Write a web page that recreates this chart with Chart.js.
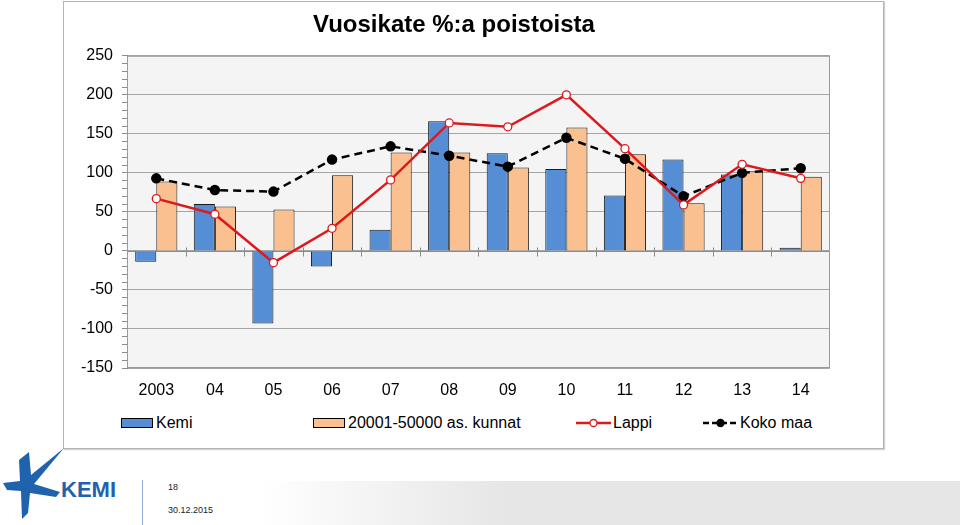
<!DOCTYPE html>
<html>
<head>
<meta charset="utf-8">
<title>Vuosikate %:a poistoista</title>
<script src="https://cdn.jsdelivr.net/npm/chart.js@4.4.1/dist/chart.umd.min.js"></script>
<style>
body { margin: 0; width: 960px; height: 525px; background: #fff; position: relative; overflow: hidden; font-family: "Liberation Sans", Arial, sans-serif; }
#box { position: absolute; left: 63px; top: 1px; width: 819px; height: 446px; border: 1px solid #b4b4b4; box-shadow: 1px 1px 1px #d0d0d0; }
#wrap { position: absolute; left: 78px; top: 2px; width: 772px; height: 398px; }
#legend { position: absolute; left: 0; top: 412px; width: 960px; height: 22px; font-size: 16px; color: #000; }
.item { position: absolute; top: 0; height: 22px; display: flex; align-items: center; white-space: nowrap; }
.swatch { width: 30px; height: 8px; border: 1px solid #000; margin-right: 3px; }
.item svg { margin-right: 2px; }
#band { position: absolute; left: 260px; top: 481px; width: 700px; height: 44px; background: linear-gradient(90deg, rgba(230,230,230,0) 0%, #e6e6e6 35%, #e6e6e6 100%); }
#logo { position: absolute; left: 0; top: 446px; }
#sep { position: absolute; left: 142px; top: 480px; width: 1px; height: 45px; background: #8fb0d6; }
.foot { position: absolute; left: 168px; font-size: 9px; color: #222; }
</style>
</head>
<body>
<div id="band"></div>
<div id="box"></div>
<div id="wrap"><canvas id="myChart"></canvas></div>
<div id="legend"></div>

<svg id="logo" width="130" height="79" viewBox="0 0 130 79">
  <path d="M64 2 L31 29 L29 6 L19 14 L20 35 L3 37 L7 44 L21 45 L22 73 L28 67 L30 47 L56 51 L60 46 L34 38 Z" fill="#1f62ad"/>
  <text x="61" y="51" font-family="Liberation Sans, Arial, sans-serif" font-weight="bold" font-size="22" fill="#1f62ad">KEMI</text>
</svg>
<div id="sep"></div>
<div class="foot" style="top:482px">18</div>
<div class="foot" style="top:505px">30.12.2015</div>

<script>
var years = ['2003', '04', '05', '06', '07', '08', '09', '10', '11', '12', '13', '14'];
var seriesNames = ['Kemi', '20001-50000 as. kunnat', 'Lappi', 'Koko maa'];
var kemi = [-14, 60, -93, -20, 27, 166, 125, 105, 71, 117, 98, 4];
var kunnat = [89, 57, 53, 97, 126, 126, 107, 158, 124, 61, 102, 95];
var lappi = [67, 47, -15, 29, 91, 164, 159, 200, 131, 59, 111, 93];
var kokoMaa = [93, 78, 76, 117, 134, 122, 108, 145, 118, 70, 100, 106];
var yTicks = [-150, -100, -50, 0, 50, 100, 150, 200, 250];

var font = '"Liberation Sans", Arial, sans-serif';

// grey plot area with a frame, plus the category ticks on the zero line
var plotArea = {
    id: 'plotArea',
    beforeDraw: function (chart) {
        var a = chart.chartArea, c = chart.ctx;
        c.save();
        c.fillStyle = '#f4f4f4';
        c.fillRect(a.left, a.top, a.right - a.left, a.bottom - a.top);
        c.restore();
    },
    beforeDatasetsDraw: function (chart) {
        var a = chart.chartArea, c = chart.ctx;
        var xs = chart.scales.x, y0 = Math.round(chart.scales.y.getPixelForValue(0)) + 0.5;
        var w = (a.right - a.left) / years.length;
        c.save();
        c.strokeStyle = '#8c8c8c';
        c.lineWidth = 1;
        c.beginPath();
        c.moveTo(a.left, y0);
        c.lineTo(a.right, y0);
        for (var i = 1; i < years.length; i++) {
            var x = Math.round(xs.getPixelForValue(i) - w / 2) + 0.5;
            c.moveTo(x, y0 - 4);
            c.lineTo(x, y0 + 5);
        }
        c.stroke();
        c.restore();
    },
    afterDraw: function (chart) {
        var a = chart.chartArea, c = chart.ctx;
        c.save();
        c.strokeStyle = '#9a9a9a';
        c.lineWidth = 1;
        c.strokeRect(a.left + 0.5, a.top + 0.5, a.right - a.left - 1, a.bottom - a.top - 1);
        c.restore();
    }
};

var ctx = document.getElementById('myChart').getContext('2d');
var myChart = new Chart(ctx, {
    type: 'bar',
    data: {
        labels: years,
        datasets: [{
            label: seriesNames[0],
            data: kemi,
            backgroundColor: '#558ed5',
            borderColor: '#1a1a1a',
            borderWidth: 1,
            order: 2
        }, {
            label: seriesNames[1],
            data: kunnat,
            backgroundColor: '#fac090',
            borderColor: '#1a1a1a',
            borderWidth: 1,
            order: 2
        }, {
            type: 'line',
            label: seriesNames[2],
            data: lappi,
            borderColor: '#dc1a1e',
            borderWidth: 2.5,
            pointRadius: 4,
            pointBorderWidth: 1.3,
            pointBackgroundColor: '#ffffff',
            pointBorderColor: '#dc1a1e',
            tension: 0,
            order: 0
        }, {
            type: 'line',
            label: seriesNames[3],
            data: kokoMaa,
            borderColor: '#000000',
            borderWidth: 2.5,
            borderDash: [8, 5],
            pointRadius: 4,
            pointBackgroundColor: '#000000',
            pointBorderColor: '#000000',
            tension: 0,
            order: 1
        }]
    },
    options: {
        responsive: true,
        maintainAspectRatio: false,
        animation: false,
        layout: { padding: { left: 0, right: 20, top: 0, bottom: 0 } },
        datasets: {
            bar: { categoryPercentage: 0.72, barPercentage: 1 }
        },
        plugins: {
            legend: { display: false },
            tooltip: { enabled: false },
            title: {
                display: true,
                text: 'Vuosikate %:a poistoista',
                color: '#000',
                font: { family: font, size: 24, weight: 'bold' },
                padding: { top: 9, bottom: 16 }
            }
        },
        scales: {
            x: {
                offset: true,
                afterFit: function (s) { s.height = 32; },
                grid: { display: false, offset: true },
                border: { display: false },
                ticks: { color: '#000', font: { family: font, size: 16 }, padding: 5 }
            },
            y: {
                min: yTicks[0],
                max: yTicks[yTicks.length - 1],
                afterFit: function (s) { s.width = 49; },
                border: { color: '#8c8c8c' },
                grid: {
                    color: function (c) {
                        return c.tick && yTicks.indexOf(c.tick.value) >= 0 ? '#a6a6a6' : 'rgba(0,0,0,0)';
                    },
                    tickColor: '#8c8c8c',
                    tickLength: 5
                },
                ticks: {
                    stepSize: 10,
                    maxTicksLimit: 100,
                    autoSkip: false,
                    padding: 9,
                    color: '#000',
                    font: { family: font, size: 16 },
                    callback: function (v) { return yTicks.indexOf(v) >= 0 ? v : ''; }
                }
            }
        }
    },
    plugins: [plotArea]
});

// legend row, built from the chart's datasets
var legendLeft = [121, 313, 576, 703];
var legend = document.getElementById('legend');
myChart.data.datasets.forEach(function (ds, i) {
    var item = document.createElement('div');
    item.className = 'item';
    item.style.left = legendLeft[i] + 'px';
    var mark;
    if (ds.type === 'line') {
        var dash = ds.borderDash ? ' stroke-dasharray="6 3"' : '';
        mark = '<svg width="35" height="12"><line x1="0" y1="6" x2="35" y2="6" stroke="' + ds.borderColor +
            '" stroke-width="2.5"' + dash + '/><circle cx="17.5" cy="6" r="3.5" fill="' + ds.pointBackgroundColor +
            '" stroke="' + ds.pointBorderColor + '" stroke-width="1.3"/></svg>';
    } else {
        mark = '<div class="swatch" style="background:' + ds.backgroundColor + '"></div>';
    }
    item.innerHTML = mark + '<span>' + ds.label + '</span>';
    legend.appendChild(item);
});
</script>
</body>
</html>
